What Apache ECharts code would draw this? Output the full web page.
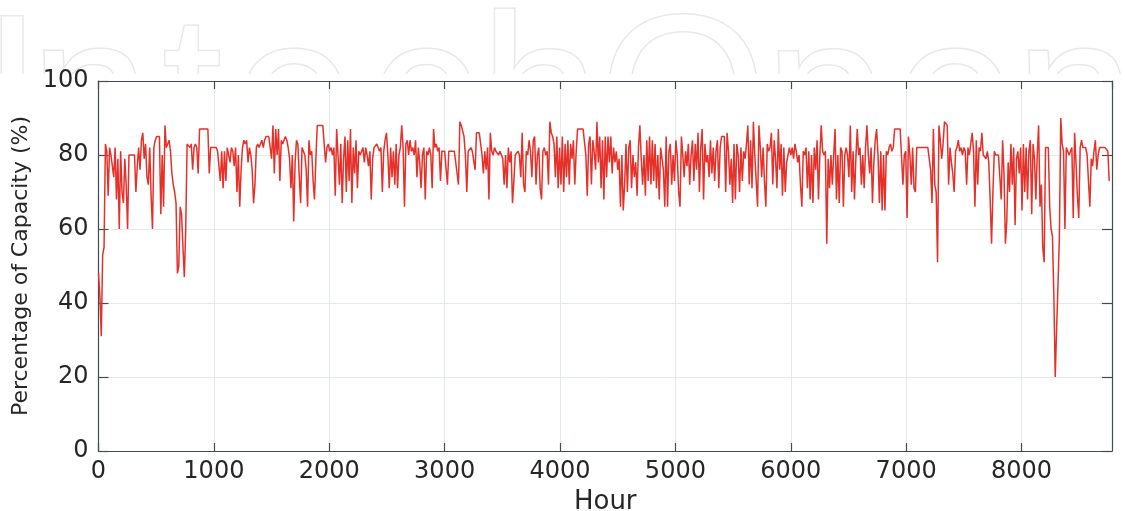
<!DOCTYPE html>
<html>
<head>
<meta charset="utf-8">
<title>Percentage of Capacity by Hour</title>
<script src="https://cdn.jsdelivr.net/npm/echarts@6/dist/echarts.min.js"></script>
<style>
  html, body { margin: 0; padding: 0; background: #ffffff; }
  #chart { width: 1125px; height: 511px; }
</style>
</head>
<body>
<div id="chart"></div>
<script>
// Hourly capacity readings, one value every STEP hours, starting at hour 0.
const STEP = 12;
const capacity = [
  // 0 - 1188
  48, 42, 31, 53, 55, 83, 81, 69, 82, 80,
  80, 74, 82, 68, 79, 60, 81, 70, 67, 79,
  72, 60, 80, 80, 80, 80, 80, 70, 77, 82,
  76, 84, 86, 79, 83, 74, 72, 82, 69, 60,
  82, 84, 85, 85, 85, 64, 80, 66, 88, 82,
  83, 84, 81, 75, 72, 70, 67, 48, 50, 66,
  64, 55, 47, 60, 83, 83, 82, 83, 76, 82,
  83, 82, 75, 87, 87, 87, 87, 87, 87, 87,
  75, 82, 82, 82, 82, 82, 81, 81, 73, 81,
  71, 81, 73, 82, 82, 78, 82, 81, 77, 82,
  // 1200 - 2388
  70, 80, 66, 76, 82, 84, 83, 84, 78, 82,
  80, 76, 67, 72, 82, 83, 82, 83, 84, 82,
  84, 85, 85, 85, 85, 79, 88, 75, 87, 80,
  87, 73, 84, 83, 84, 85, 84, 82, 79, 71,
  80, 62, 78, 84, 83, 74, 67, 82, 81, 80,
  76, 66, 84, 80, 81, 73, 68, 79, 88, 88,
  88, 88, 88, 88, 78, 82, 83, 81, 82, 80,
  82, 69, 87, 80, 72, 83, 67, 79, 85, 70,
  84, 73, 87, 67, 82, 75, 84, 71, 81, 80,
  81, 82, 78, 82, 80, 77, 81, 68, 79, 82,
  // 2400 - 3588
  82, 83, 82, 81, 82, 70, 81, 84, 86, 80,
  71, 82, 74, 81, 72, 83, 71, 80, 82, 88,
  82, 66, 83, 84, 80, 84, 81, 82, 80, 84,
  74, 82, 78, 71, 80, 82, 68, 81, 80, 82,
  80, 71, 87, 82, 83, 81, 82, 73, 81, 81,
  81, 81, 72, 81, 81, 81, 81, 81, 81, 75,
  72, 89, 88, 88, 85, 80, 70, 81, 81, 82,
  81, 81, 76, 86, 86, 86, 86, 80, 75, 81,
  76, 82, 68, 86, 81, 80, 82, 81, 81, 80,
  81, 80, 79, 72, 80, 71, 82, 78, 81, 67,
  // 3600 - 4788
  73, 80, 80, 81, 80, 74, 86, 72, 70, 81,
  80, 84, 81, 74, 84, 85, 72, 80, 82, 71,
  68, 81, 82, 80, 81, 72, 89, 86, 85, 83,
  74, 85, 71, 82, 72, 85, 70, 83, 74, 84,
  72, 83, 79, 84, 72, 81, 87, 87, 87, 87,
  87, 87, 80, 69, 83, 85, 72, 84, 81, 76,
  89, 78, 85, 71, 84, 68, 85, 74, 85, 78,
  85, 75, 82, 78, 81, 76, 79, 66, 80, 65,
  72, 83, 70, 82, 84, 71, 80, 74, 78, 69,
  82, 88, 79, 72, 80, 69, 84, 73, 85, 72,
  // 4800 - 5988
  84, 73, 83, 71, 80, 68, 82, 79, 76, 66,
  85, 66, 81, 83, 72, 80, 73, 84, 80, 70,
  66, 85, 80, 74, 81, 77, 83, 72, 80, 84,
  73, 83, 76, 86, 70, 82, 87, 68, 83, 78,
  80, 74, 84, 75, 82, 73, 81, 84, 71, 82,
  85, 85, 85, 70, 86, 81, 72, 79, 67, 83,
  68, 83, 80, 70, 82, 73, 81, 79, 83, 88,
  72, 84, 71, 89, 80, 73, 66, 88, 82, 74,
  82, 73, 66, 83, 81, 82, 86, 72, 84, 79,
  71, 87, 76, 83, 69, 82, 70, 78, 80, 82,
  // 6000 - 7188
  80, 82, 79, 83, 81, 78, 80, 72, 66, 81,
  80, 82, 71, 81, 68, 80, 67, 82, 76, 84,
  68, 80, 88, 81, 80, 81, 56, 79, 71, 80,
  72, 80, 87, 68, 80, 67, 82, 81, 66, 80,
  82, 80, 74, 88, 70, 81, 68, 79, 87, 80,
  82, 72, 80, 71, 82, 88, 80, 75, 82, 67,
  78, 84, 87, 80, 67, 81, 65, 80, 65, 81,
  80, 82, 83, 81, 82, 87, 87, 87, 87, 87,
  87, 72, 80, 81, 63, 85, 80, 72, 82, 71,
  70, 82, 82, 82, 82, 82, 82, 82, 82, 82,
  // 7200 - 8388
  82, 76, 67, 87, 72, 70, 51, 88, 84, 79,
  83, 89, 89, 88, 72, 82, 78, 75, 70, 81,
  82, 84, 81, 82, 80, 82, 81, 72, 82, 80,
  80, 86, 81, 66, 84, 72, 82, 81, 86, 80,
  80, 79, 81, 78, 68, 56, 70, 81, 80, 80,
  80, 74, 68, 84, 75, 56, 62, 78, 70, 83,
  72, 82, 61, 79, 81, 75, 82, 65, 83, 70,
  82, 68, 81, 84, 64, 83, 79, 68, 80, 88,
  66, 72, 55, 51, 82, 82, 82, 66, 60, 58,
  42, 20, 33, 45, 58, 90, 83, 81, 60, 82,
  // 8400 - 8760
  81, 80, 81, 82, 63, 86, 78, 69, 63, 82,
  84, 82, 82, 82, 80, 80, 66, 79, 77, 81,
  84, 76, 80, 82, 82, 82, 82, 82, 82, 81,
  73
];

const hours = capacity.map((_, i) => i * STEP);

const xTicks = [0, 1000, 2000, 3000, 4000, 5000, 6000, 7000, 8000];
const yTicks = [0, 20, 40, 60, 80, 100];
const X_MAX = 8784;

const watermarkLetters = ['I', 'n', 't', 'e', 'c', 'h', 'O', 'p', 'e', 'n'];
const watermarkCenters = [12, 90, 192, 294, 423, 540, 683, 825, 955, 1075];

const FRAME = '#404c52';
const TEXT = '#262626';
const GRID = '#e4e9eb';
const FONT = '"DejaVu Sans", "Liberation Sans", sans-serif';

const seriesData = hours.map((h, i) => [h, capacity[i]]);

const watermark = watermarkLetters.map((ch, i) => ({
  type: 'text',
  x: watermarkCenters[i],
  y: 106,
  z: -10,
  style: {
    text: ch,
    font: '215px "Liberation Sans", sans-serif',
    fill: '#ffffff',
    stroke: '#e8e8e8',
    lineWidth: 3,
    align: 'center',
    verticalAlign: 'middle'
  }
}));

const chart = echarts.init(document.getElementById('chart'), null, { renderer: 'canvas' });

const commonX = {
  type: 'value',
  min: 0,
  max: X_MAX,
  interval: 1000
};
const commonY = {
  type: 'value',
  min: 0,
  max: 100,
  interval: 20
};

chart.setOption({
  animation: false,
  backgroundColor: '#ffffff',
  graphic: watermark.concat([{
    type: 'rect',
    z: -9,
    shape: { x: 0, y: 74, width: 1125, height: 440 },
    style: { fill: '#ffffff' }
  }]),
  grid: {
    left: 98.5, top: 81, width: 1013.5, height: 370,
    containLabel: false, outerBoundsMode: 'none'
  },
  xAxis: [
    Object.assign({}, commonX, {
      position: 'bottom',
      name: 'Hour',
      nameLocation: 'middle',
      nameGap: 35,
      nameTextStyle: { fontFamily: FONT, fontSize: 26, color: TEXT },
      axisLine: { show: true, onZero: false, lineStyle: { color: FRAME, width: 1.2 } },
      axisTick: { show: true, inside: true, length: 8, lineStyle: { color: FRAME, width: 1.2 } },
      axisLabel: {
        show: true, margin: 9, fontFamily: FONT, fontSize: 24, color: TEXT,
        showMaxLabel: false,
        formatter: v => (xTicks.indexOf(v) >= 0 ? String(v) : '')
      },
      splitLine: { show: true, lineStyle: { color: GRID, width: 1 } }
    }),
    Object.assign({}, commonX, {
      position: 'top',
      axisLine: { show: true, onZero: false, lineStyle: { color: FRAME, width: 1.2 } },
      axisTick: { show: true, inside: true, length: 8, lineStyle: { color: FRAME, width: 1.2 } },
      axisLabel: { show: false },
      splitLine: { show: false }
    })
  ],
  yAxis: [
    Object.assign({}, commonY, {
      position: 'left',
      name: 'Percentage of Capacity (%)',
      nameLocation: 'middle',
      nameGap: 62,
      nameTextStyle: { fontFamily: FONT, fontSize: 22, color: TEXT },
      axisLine: { show: true, onZero: false, lineStyle: { color: FRAME, width: 1.2 } },
      axisTick: { show: true, inside: true, length: 10, lineStyle: { color: FRAME, width: 1.2 } },
      axisLabel: {
        show: true, margin: 10, fontFamily: FONT, fontSize: 24, color: TEXT,
        formatter: v => (yTicks.indexOf(v) >= 0 ? String(v) : '')
      },
      splitLine: { show: true, lineStyle: { color: GRID, width: 1 } }
    }),
    Object.assign({}, commonY, {
      position: 'right',
      axisLine: { show: true, onZero: false, lineStyle: { color: FRAME, width: 1.2 } },
      axisTick: { show: true, inside: true, length: 10, lineStyle: { color: FRAME, width: 1.2 } },
      axisLabel: { show: false },
      splitLine: { show: false }
    })
  ],
  series: [{
    type: 'line',
    xAxisIndex: 0,
    yAxisIndex: 0,
    data: seriesData,
    showSymbol: false,
    symbol: 'none',
    z: 3,
    lineStyle: { color: '#e5312a', width: 1.5 }
  }]
});
</script>
</body>
</html>
